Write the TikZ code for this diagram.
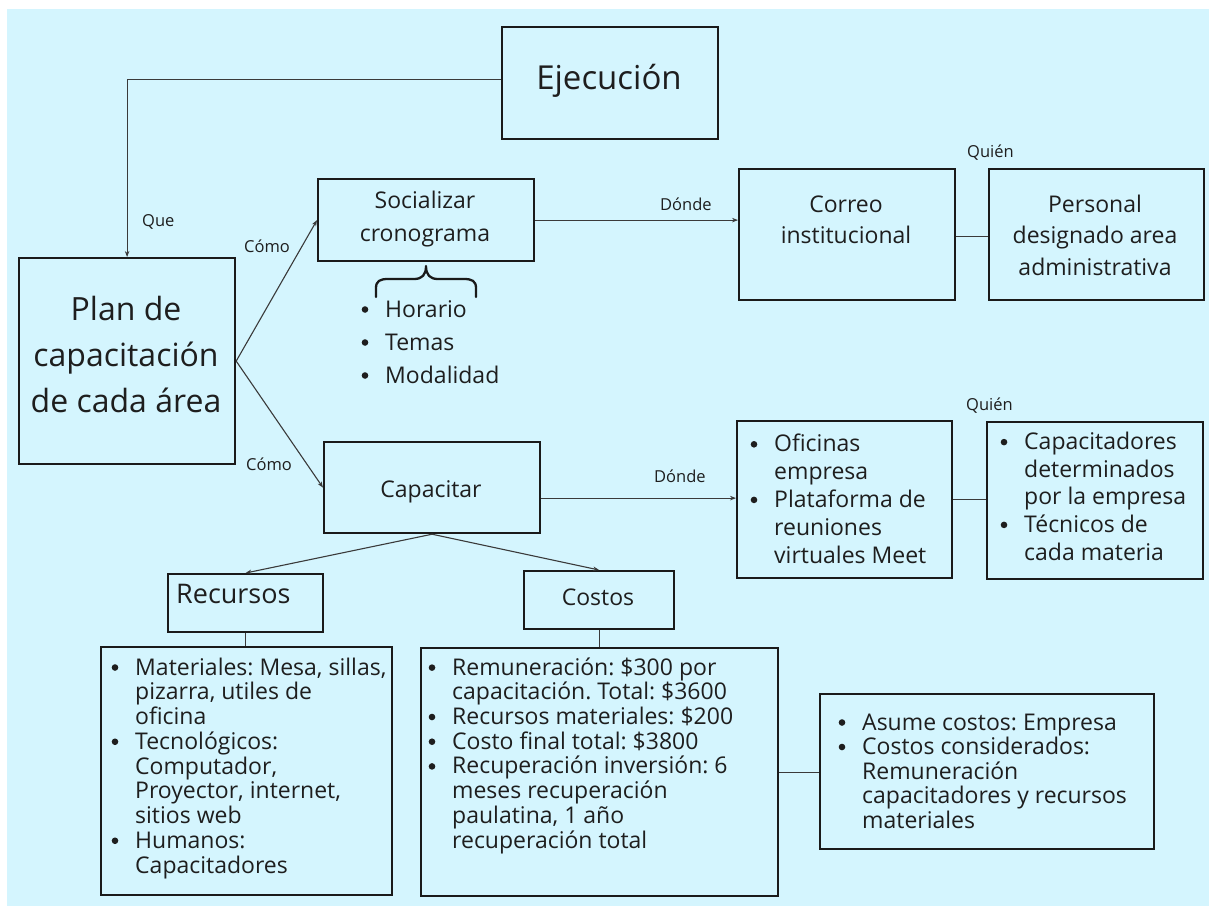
\documentclass[tikz,border=0pt]{standalone}
\usepackage{fontspec}
\setmainfont{Open Sans}
\usetikzlibrary{arrows.meta,calc}
\frenchspacing

\definecolor{bg}{HTML}{D4F5FE}
\definecolor{ink}{HTML}{1E1E1E}
\definecolor{edge}{HTML}{1A1A1A}
\definecolor{wire}{HTML}{3A3A3A}

\newcommand{\fsz}[2]{\fontsize{#1pt}{#2pt}\selectfont}
% round list bullet followed by the hanging indent
\newcommand{\bdot}{\tikz[baseline=-7.5pt]\fill[ink] (0,0) circle (3.3pt);}
\newcommand{\bul}{\makebox[25pt][l]{\hspace{1.5pt}\bdot}}
\newcommand{\cont}{\hspace*{25pt}}

\begin{document}
\begin{tikzpicture}[x=1pt,y=-1pt,
  box/.style={draw=edge, line width=2.2pt, inner sep=0pt, anchor=north west},
  txt/.style={inner sep=0pt, text=ink},
  tag/.style={txt, anchor=base west, font=\fsz{16.5}{20}},
  conn/.style={draw=wire, line width=1.1pt},
  arr/.style={conn, -{Stealth[length=6pt,width=4.5pt]}},
  bracket/.style={draw=edge, line width=2.3pt, line cap=round, line join=round}]

\useasboundingbox (0,0) rectangle (1209,906);
\fill[white] (0,0) rectangle (1209,906);
\fill[bg] (7,9) rectangle (1209,906);

% frames
\node[box, minimum width=216pt, minimum height=112pt] (ejec) at (501,26) {};
\node[box, minimum width=216pt, minimum height=206pt] (plan) at (18,257) {};
\node[box, minimum width=216pt, minimum height=82pt] (soc) at (317,178) {};
\node[box, minimum width=216pt, minimum height=91pt] (cap) at (323,441) {};
\node[box, minimum width=216pt, minimum height=131pt] (correo) at (738,168) {};
\node[box, minimum width=215pt, minimum height=131pt] (pers) at (988,168) {};
\node[box, minimum width=215pt, minimum height=157pt] (ofi) at (736,420) {};
\node[box, minimum width=216pt, minimum height=157pt] (capac) at (986,421) {};
\node[box, minimum width=155pt, minimum height=58pt] (rec) at (167,573) {};
\node[box, minimum width=150pt, minimum height=58pt] (cos) at (523,570) {};
\node[box, minimum width=291pt, minimum height=248pt] (recl) at (100,646) {};
\node[box, minimum width=357pt, minimum height=248pt] (cosl) at (420,647) {};
\node[box, minimum width=334pt, minimum height=155pt] (asu) at (819,693) {};

% texts inside the frames (base = baseline of the last line)
\node[txt, anchor=base, font=\fsz{33}{45}] (ejecT) at (609,89) {Ejecución};
\node[txt, anchor=base, align=center, font=\fsz{32}{46}] (planT) at (126,412) {Plan de\\capacitación\\de cada área};
\node[txt, anchor=base, align=center, font=\fsz{23}{33}] (socT) at (425,241) {Socializar\\cronograma};
\node[txt, anchor=base, font=\fsz{23}{28}] (capT) at (431,497) {Capacitar};
\node[txt, anchor=base, align=center, font=\fsz{23}{31}] (correoT) at (846,243) {Correo\\institucional};
\node[txt, anchor=base, align=center, font=\fsz{23}{31.5}] (persT) at (1095,275) {Personal\\designado area\\administrativa};
\node[txt, anchor=base west, font=\fsz{27}{30}] (recT) at (176,603) {Recursos};
\node[txt, anchor=base, font=\fsz{23}{28}] (cosT) at (598,605) {Costos};

% bullet lists
\node[txt, anchor=base west, align=left, font=\fsz{23}{33}] (horL) at (360,383)
  {\bul Horario\\\bul Temas\\\bul Modalidad};
\node[txt, anchor=base west, align=left, font=\fsz{23}{27.8}] (ofiL) at (749,563)
  {\bul Oficinas\\\cont empresa\\\bul Plataforma de\\\cont reuniones\\\cont virtuales Meet};
\node[txt, anchor=base west, align=left, font=\fsz{23}{27.6}] (capacL) at (999,560)
  {\bul Capacitadores\\\cont determinados\\\cont por la empresa\\\bul Técnicos de\\\cont cada materia};
\node[txt, anchor=base west, align=left, font=\fsz{23}{24.75}] (recL) at (110,873)
  {\bul Materiales: Mesa, sillas,\\\cont pizarra, utiles de\\\cont oficina\\\bul Tecnológicos:\\\cont Computador,\\\cont Proyector, internet,\\\cont sitios web\\\bul Humanos:\\\cont Capacitadores};
\node[txt, anchor=base west, align=left, font=\fsz{23}{24.7}] (cosL) at (427,848)
  {\bul Remuneración: \$300 por\\\cont capacitación. Total: \$3600\\\bul Recursos materiales: \$200\\\bul Costo final total: \$3800\\\bul Recuperación inversión: 6\\\cont meses recuperación\\\cont paulatina, 1 año\\\cont recuperación total};
\node[txt, anchor=base west, align=left, font=\fsz{23}{24.5}] (asuL) at (837,828)
  {\bul Asume costos: Empresa\\\bul Costos considerados:\\\cont Remuneración\\\cont capacitadores y recursos\\\cont materiales};

% curly bracket under the schedule box
\draw[bracket] (376,297) -- (376,288) .. controls (376,281) and (380,279) .. (388,279)
  -- (414,279) .. controls (422,279) and (426,275) .. (426,266)
  .. controls (426,275) and (430,279) .. (438,279) -- (464,279)
  .. controls (472,279) and (476,281) .. (476,288) -- (476,297);

% connectors
\draw[arr] ([yshift=4pt]ejec.west) -| (plan.north);
\draw[arr] (plan.east) -- (soc.west);
\draw[arr] (plan.east) -- (cap.west);
\draw[arr] (soc.east) -- (soc.east -| correo.west);
\draw[conn] ([yshift=-1.5pt]correo.east) -- ([yshift=-1.5pt]correo.east -| pers.west);
\draw[arr] ([yshift=-10.5pt]cap.east) -- ([yshift=-10.5pt]cap.east -| ofi.west);
\draw[conn] (ofi.east) -- (ofi.east -| capac.west);
\draw[arr] (cap.south) -- (rec.north);
\draw[arr] (cap.south) -- (cos.north);
\draw[conn] (rec.south) -- (rec.south |- recl.north);
\draw[conn] (cos.south) -- (cos.south |- cosl.north);
\draw[conn] (cosl.east) -- (cosl.east -| asu.west);

% connector labels
\node[tag] (qLbl) at (142,226) {Que};
\node[tag] (como1) at (244,252) {Cómo};
\node[tag] (como2) at (246,470) {Cómo};
\node[tag] (donde1) at (660,210) {Dónde};
\node[tag] (donde2) at (654,482) {Dónde};
\node[tag] (quien1) at (967,157) {Quién};
\node[tag] (quien2) at (966,410) {Quién};
\end{tikzpicture}
\end{document}
